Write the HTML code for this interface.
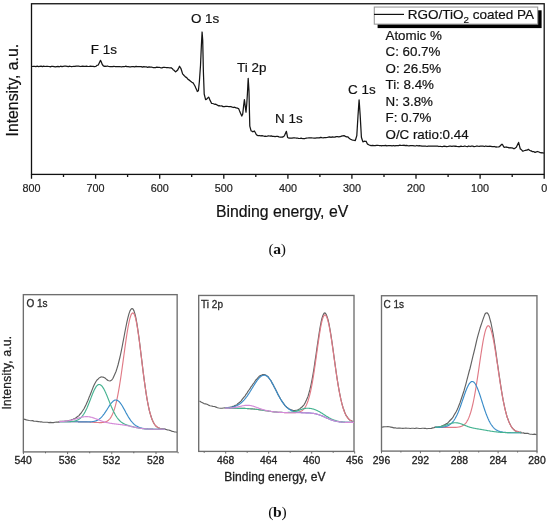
<!DOCTYPE html>
<html><head><meta charset="utf-8"><style>
html,body{margin:0;padding:0;background:#fff;}
body{width:550px;height:523px;overflow:hidden;}
svg{display:block;will-change:transform;}
text{font-family:"Liberation Sans",sans-serif;}
.b3{stroke:currentColor;stroke-width:0.3px;}
.b2{stroke:currentColor;stroke-width:0.2px;}
.serif{font-family:"Liberation Serif",serif;}
</style></head><body>
<svg width="550" height="523" viewBox="0 0 550 523">
<rect width="550" height="523" fill="#fff"/>
<!-- (a) survey -->
<g fill="none" stroke="#111" stroke-width="1.3">
<rect x="31.5" y="3.75" width="512.7" height="170.65"/>
<path d="M544.2 174.4V178.8M512.2 174.4V176.9M480.1 174.4V178.8M448.1 174.4V176.9M416 174.4V178.8M384 174.4V176.9M351.9 174.4V178.8M319.9 174.4V176.9M287.9 174.4V178.8M255.8 174.4V176.9M223.8 174.4V178.8M191.7 174.4V176.9M159.7 174.4V178.8M127.6 174.4V176.9M95.6 174.4V178.8M63.5 174.4V176.9M31.5 174.4V178.8"/>
</g>
<path d="M32 66.5L33.3 66.4L34.6 66.3L35.9 66.6L37.2 66.2L38.5 66.6L39.8 66.4L41.1 66.2L42.4 66.6L43.7 66.2L45 66.5L46.3 66.3L47.6 66.3L48.9 66.5L50 66.6L50.2 66.8L51.5 66.3L52.8 66.4L54.1 66.6L55.4 66.9L56.7 66.6L58 66.4L59.3 66.8L60.6 66.2L61.9 66.7L63.2 66.3L64.5 66.2L65.8 66.2L67.1 66.3L68.4 66.6L69.7 66.2L70 66.4L71 66.5L72.3 66.5L73.6 66.3L74.9 66.4L76.2 66.1L77.5 66.1L78.8 66.2L80.1 66.5L81.4 66.3L82.7 66.2L84 66.4L85.3 66.3L86.6 66.2L87.9 66.5L89.2 66.4L90 66.3L90.5 66.1L91.8 66.4L93.1 66.3L94.4 66.6L95.7 66.5L96 66.3L97 65.4L98.3 65L98.5 64.5L99.6 62.2L100.5 60.4L100.9 61L102.2 64.2L102.3 64.5L103.5 66L104 66.3L104.8 66.1L106.1 66.3L107.4 66L108.7 66.5L110 66.6L111.3 66.5L112.6 66.7L113.9 66.3L115 66.5L115.2 66.6L116.5 66.6L117.8 66.6L119.1 66.5L120.4 66.7L121.7 66.8L123 66.5L124.3 66.6L125 66.5L125.6 66.2L126.9 66.7L128.2 66.7L129.5 66.9L130.8 66.9L132.1 66.5L133.4 66.6L134.7 66.8L136 66.4L137.3 66.7L138.6 66.6L139.9 66.6L141.2 66.6L142.5 67.1L143 66.9L143.8 66.7L145.1 66.8L146.4 66.9L147.7 67.3L149 66.8L150.3 67.1L151.6 67.2L152.9 67.5L154.2 67.5L155.5 67.6L156.8 67.2L158.1 67.4L159.4 67.4L160 67.5L160.7 67.8L162 67.9L163.3 67.3L164.6 67.4L165.9 67.5L167.2 67.5L168.5 67.7L169.8 67.8L171 67.8L171.1 67.7L172.4 68.7L173.1 69.7L173.7 70.1L175 71.2L175.6 71.8L176.3 71.2L177.4 70.2L177.6 70.1L178.9 67.5L179.5 66.2L180.2 67.4L181 68.7L181.5 70.3L182.6 73.9L182.8 74.1L184.1 75.5L185.2 76.6L185.4 76.9L186.7 77.6L188 79.3L189.3 80.3L189.4 80.2L190.6 81.3L191.9 82.2L193.1 82.9L193.2 83L194.5 85.2L195.2 86.5L195.8 87.9L197.1 90.7L197.3 91.5L198.4 90.8L199.4 81.3L199.7 77L200.5 65.5L201 54.1L201.4 45L202.1 32L202.3 34.7L202.7 40L203.4 72L203.6 77.5L204.2 94L204.9 96.9L205.6 99.7L206.2 99.4L207.3 98.6L207.5 98.1L208.6 97.1L208.8 97.2L210 100.2L210.1 100.4L211.4 103L211.5 103.4L212.7 103.5L214 104L215 104.4L215.3 104.2L216.6 104.7L217.9 105.4L218.4 105.8L219.2 105.6L220.5 106L221.8 105.9L223.1 106.7L223.6 106.5L224.4 106.6L225.7 106.3L227 106.4L228.3 106.5L229.6 106.5L230 106.6L230.9 106.5L232.2 107.2L233.5 107.5L234 107.2L234.8 107.4L236.1 107.8L236.7 108L237.4 108L238.7 108.9L238.7 108.6L240 112.1L241.3 114.9L241.8 116.1L242.6 114.3L242.7 114.1L243.6 106.1L243.9 103.7L244.4 99.7L245.2 105.9L245.4 107.4L246 112.1L246.5 106.8L246.7 104.7L247.4 94L247.8 86.1L248.2 78.3L249 91.4L249.1 96.1L249.4 110.1L249.8 126.1L250.4 128.3L251.1 130.8L251.7 131L252.7 131.7L253 131.8L254.3 131L254.4 131.2L255.6 133L256 134.1L256.9 135.1L258.1 135.7L258.2 135.7L259.5 135.5L260.8 135.9L262.1 135.6L263.4 136L264.7 136.4L265 136.1L266 136.4L267.3 136.2L268.6 135.9L269.9 136L270 136.1L271.2 135.9L272.5 136.4L273.8 136.4L275.1 136.6L276.4 136.4L277.7 136.4L279 136.9L280.3 137.1L281.6 137.1L282.7 136.9L282.9 137L284.2 136L284.5 135.5L285.5 133.3L286.4 131.3L286.8 133.3L287.6 137.3L288.1 137.8L289 138.2L289.4 138L290.7 138.2L292 138.1L293.3 137.9L294.6 137.9L295.9 138L297.2 138L298.5 138.3L299.8 138.5L301.1 138.2L302.4 138.5L303.7 138.5L305 138.5L306.3 138.1L306.4 138.2L307.6 138L308.9 137.9L310.2 137.8L311.5 137.8L312.8 138L314.1 138.2L315.4 138.1L316.7 137.8L318 137.9L319.3 137.9L320.6 137.4L321.9 137.7L323.2 137.8L324.5 137.5L325.8 137.6L327.1 137.5L328.4 137.2L329.7 136.9L331 137.3L332.3 136.9L333.6 137.1L334.9 137.1L336.2 136.6L337.5 136.6L338.8 136.9L340.1 136.6L340.9 136.4L341.4 136.1L342.7 135.8L344 135.6L344.5 135.8L345.3 136.4L346.6 136.9L347.9 136.9L348.2 137.3L349.2 138.2L350.5 139.2L351.8 139.8L353.1 140.2L354.4 140.3L355.3 140.6L355.7 139.3L356.8 135.6L357 132.3L358 115.8L358.3 111.4L359.1 99.8L359.6 107.1L360.2 115.8L360.9 128.3L361.4 137.2L362.2 139.7L362.9 141.8L363.5 141.7L364.8 141.2L365 141.4L366 141.4L366.1 141.2L367.4 144.1L367.6 144.1L368.7 144.8L369.8 145.3L370 145.3L371.3 145.7L372.6 145.3L373.9 145.7L375.2 145.7L376.5 145.3L377.8 145.4L379.1 145.5L380.4 145.5L381.7 145.8L381.8 145.7L383 145.5L384.3 145.6L385.6 145.4L386.9 145.9L388.2 145.5L389.5 145.6L390.8 145.7L392.1 145.9L393.4 145.5L394.7 145.9L396 145.6L397.3 145.6L398.6 145.6L399.9 145.2L401.2 145.5L402.5 145.3L403.6 145.5L403.8 145.2L405.1 145.7L406.4 145.3L407.7 145.6L409 145.8L410.3 145.7L411.6 145.6L412.9 145.7L414.2 145.8L415.5 146L416.8 145.5L418.1 145.9L419.4 145.7L420 145.9L420.7 145.8L422 146.1L423.3 146L424.6 146L425.9 146.2L427.2 146.3L428.5 146L429.8 146.1L431.1 146.1L432.4 146.1L433.7 146.2L435 146.1L436.3 146.2L437.6 146.1L438.9 146.5L440.2 146.3L441.5 146.5L442.8 146.5L444.1 146.1L445.4 146.3L446.7 146.6L448 146.5L449.3 146.1L450.6 146.1L451.9 146.3L453.2 146.1L454.5 146.2L455 146.4L455.8 146.1L457.1 146.5L458.4 146.6L459.7 146.6L461 146.1L462.3 146.5L463.6 146.4L464.9 146L466.2 146.5L467.5 146.6L468.8 146L470.1 146.5L471.4 146.1L472.3 146.2L472.7 146.2L474 146.6L475.3 146.5L476.6 146L477.9 146.2L479.2 146.3L480.5 146.2L481.8 146.1L483.1 146.2L484.4 146.5L485.7 146L487 146.4L488.3 146.3L489.5 146.4L489.6 146.1L490.9 146.4L492.2 146.7L493.5 146.7L494.8 146.5L496.1 147.2L496.5 146.9L497.4 147L498.7 146.9L499.9 146.4L500 146L501.3 144.8L502 144.2L502.6 144.7L503.9 147.1L504.2 147.3L505.2 147.1L506.5 147L506.8 147.3L507.8 147.3L509.1 147.8L510.3 147.6L510.4 147.9L511.7 147.9L513 148.2L513.7 148.7L514.3 148.7L515.6 147.7L516.3 147.3L516.9 146L518.2 143.4L518.6 142.4L519.5 145.9L520.3 149L520.8 149.2L522.1 150.4L522.4 151L523.4 151L524.7 150.5L525.8 150.4L526 150L527.3 150.1L528.4 149.3L528.6 149.5L529.9 150.5L531 151L531.2 150.8L532.5 151.7L533.8 151.6L534.4 152.1L535.1 152.3L536.4 151.8L537.7 151.5L537.9 151.6L539 152L540.3 152.7L541.4 152.8L541.6 152.7L542.9 152.8L544 153.3" fill="none" stroke="#151515" stroke-width="1.25" stroke-linejoin="round"/>
<g font-size="10.8" fill="#222" class="b2" color="#222"><text x="544.2" y="191.7" text-anchor="middle">0</text><text x="480.1" y="191.7" text-anchor="middle">100</text><text x="416" y="191.7" text-anchor="middle">200</text><text x="351.9" y="191.7" text-anchor="middle">300</text><text x="287.9" y="191.7" text-anchor="middle">400</text><text x="223.8" y="191.7" text-anchor="middle">500</text><text x="159.7" y="191.7" text-anchor="middle">600</text><text x="95.6" y="191.7" text-anchor="middle">700</text><text x="31.5" y="191.7" text-anchor="middle">800</text></g>
<g font-size="13.4" fill="#111" class="b2" color="#111">
<text x="90.8" y="54.2">F 1s</text>
<text x="190.9" y="22.9">O 1s</text>
<text x="237.1" y="72.3">Ti 2p</text>
<text x="275.1" y="123.3">N 1s</text>
<text x="348.1" y="93.8">C 1s</text>
</g>
<!-- legend -->
<rect x="377.6" y="10.3" width="164" height="17.8" fill="#000"/>
<rect x="374.3" y="7.05" width="163.4" height="17.1" fill="#fff" stroke="#999" stroke-width="1.1"/>
<path d="M374 14.4H404" stroke="#111" stroke-width="1.2"/>
<text x="407.7" y="18.7" font-size="13.5" fill="#111" class="b2" color="#111">RGO/TiO<tspan font-size="9.8" dy="3.8">2</tspan><tspan dy="-3.8"> coated PA</tspan></text>
<g font-size="13.35" fill="#111" class="b2" color="#111">
<text x="385.5" y="39.5">Atomic %</text>
<text x="385.5" y="56">C: 60.7%</text>
<text x="385.5" y="72.6">O: 26.5%</text>
<text x="385.5" y="89.3">Ti: 8.4%</text>
<text x="385.5" y="105.9">N: 3.8%</text>
<text x="385.5" y="122.4">F: 0.7%</text>
<text x="385.5" y="138.8">O/C ratio:0.44</text>
</g>
<text transform="translate(17.7,136.4) rotate(-90)" font-size="15.75" fill="#111" class="b2" color="#111">Intensity, a.u.</text>
<text x="215.9" y="216.7" font-size="15.8" fill="#111" class="b2" color="#111">Binding energy, eV</text>
<text x="268.4" y="253.6" class="serif" font-size="15.6" letter-spacing="-0.35" fill="#111">(<tspan font-weight="bold">a</tspan>)</text>

<!-- (b) panels -->
<g fill="none" stroke="#6e6e6e" stroke-width="1.35">
<rect x="23.35" y="294.65" width="153.8" height="157.25"/>
<rect x="198.7" y="295.45" width="155.3" height="155.95"/>
<rect x="381.5" y="295.74" width="155.45" height="155.36"/>
</g>
<g fill="none" stroke="#666" stroke-width="1"><path d="M23.4 451.9v2.2M45.5 451.9v1.4M67.6 451.9v2.2M89.7 451.9v1.4M111.8 451.9v2.2M133.8 451.9v1.4M156 451.9v2.2M178.1 451.9v1.4M204.2 451.4v1.4M225.7 451.4v2.2M247.2 451.4v1.4M268.7 451.4v2.2M290.2 451.4v1.4M311.7 451.4v2.2M333.2 451.4v1.4M354.7 451.4v2.2M381.5 451.1v2.2M400.9 451.1v1.4M420.4 451.1v2.2M439.8 451.1v1.4M459.3 451.1v2.2M478.7 451.1v1.4M498.1 451.1v2.2M517.6 451.1v1.4M537 451.1v2.2"/></g>
<g fill="none" stroke-width="1.15" stroke-linejoin="round">
<path d="M23.4 419.1L24.9 419.4L26.4 419.9L27.9 420.2L29.4 420.5L30.9 420.7L32.4 420.6L33.9 421.1L35.4 421.3L36.9 421.4L38.4 421.6L39.9 421.8L41.4 421.8L42.9 422.2L44.4 422.2L45.9 422.2L47.4 422.3L48.9 422.6L50.4 422.4L51.9 422.6L53.4 422.6L54.9 422.3L56.4 422.1L57.9 422.1L59.4 422.1L59 421.6L60 421.4L61 421.3L62 421.3L63 421.2L64 421.2L65 421.1L66 421L67 421.1L68 420.7L69 420.6L70 420.2L71 420L72 419.5L73 419.2L74 418.7L75 418.5L76 417.8L77 417L78 416.3L79 415.6L80 414.2L81 413.3L82 411.8L83 410.3L84 408.8L85 406.7L86 404.7L87 402.5L88 400.3L89 397.6L90 395.3L91 392.7L92 390.1L93 387.6L94 385.3L95 383.2L96 381.5L97 380L98 379.2L99 378.1L100 377.4L101 376.9L102 377L103 377.1L104 377.5L105 378L106 378.9L107 379.7L108 380.5L109 380.8L110 381L111 380.4L112 379.8L113 378.3L114 376.1L115 373.7L116 371.5L117 368.3L118 365L119 361L120 357L121 352.4L122 347.5L123 342.2L124 337L125 331.5L126 326.5L127 321.6L128 317.4L129 313.6L130 310.9L131 309.2L132 308.5L133 309.1L134 310.9L135 314.1L136 318.5L137 324.1L138 330.8L139 337.9L140 345.7L141 354.3L142 362.1L143 370.6L144 378.4L145 385.4L146 392.6L147 398.8L148 404.1L149 409L150 413.1L151 416.2L152 419.2L153 421.5L154 423.5L155 425L156 426.2L157 426.9L158 427.7L159 428.1L160 428.5L161 428.5L162 428.6L163 428.8L164 429L165 428.9L165 429.1L166.2 429.5L167.4 429.9L168.6 430L169.8 430.4L171 430.8L172.2 431.4L173.4 431.5L174.6 432L175.8 432L177 432.2" stroke="#626262"/>
<path d="M59 421.7L59.5 421.7L60 421.7L60.5 421.7L61 421.7L61.5 421.7L62 421.7L62.5 421.7L63 421.7L63.5 421.7L64 421.7L64.5 421.7L65 421.7L65.5 421.7L66 421.7L66.5 421.7L67 421.7L67.5 421.7L68 421.7L68.5 421.7L69 421.7L69.5 421.7L70 421.7L70.5 421.7L71 421.7L71.5 421.7L72 421.7L72.5 421.7L73 421.7L73.5 421.7L74 421.7L74.5 421.7L75 421.7L75.5 421.7L76 421.7L76.5 421.7L77 421.7L77.5 421.7L78 421.8L78.5 421.8L79 421.8L79.5 421.8L80 421.8L80.5 421.8L81 421.8L81.5 421.8L82 421.8L82.5 421.8L83 421.8L83.5 421.8L84 421.9L84.5 421.9L85 421.9L85.5 421.9L86 421.9L86.5 421.9L87 421.9L87.5 422L88 422L88.5 422L89 422L89.5 422L90 422.1L90.5 422.1L91 422.1L91.5 422.1L92 422.2L92.5 422.2L93 422.2L93.5 422.3L94 422.3L94.5 422.3L95 422.3L95.5 422.4L96 422.4L96.5 422.4L97 422.5L97.5 422.5L98 422.5L98.5 422.5L99 422.6L99.5 422.6L100 422.6L100.5 422.6L101 422.6L101.5 422.6L102 422.5L102.5 422.5L103 422.4L103.5 422.4L104 422.3L104.5 422.2L105 422.1L105.5 421.9L106 421.7L106.5 421.5L107 421.2L107.5 420.9L108 420.6L108.5 420.2L109 419.7L109.5 419.2L110 418.6L110.5 417.9L111 417.1L111.5 416.3L112 415.3L112.5 414.3L113 413.1L113.5 411.8L114 410.4L114.5 408.9L115 407.2L115.5 405.4L116 403.4L116.5 401.3L117 399.1L117.5 396.7L118 394.1L118.5 391.4L119 388.6L119.5 385.6L120 382.5L120.5 379.3L121 376L121.5 372.5L122 369L122.5 365.4L123 361.8L123.5 358.1L124 354.5L124.5 350.8L125 347.2L125.5 343.6L126 340.1L126.5 336.7L127 333.5L127.5 330.4L128 327.5L128.5 324.8L129 322.3L129.5 320.1L130 318.2L130.5 316.5L131 315.1L131.5 314.1L132 313.4L132.5 313L133 312.9L133.5 313.2L134 313.9L134.5 314.9L135 316.4L135.5 318.1L136 320.3L136.5 322.7L137 325.4L137.5 328.4L138 331.6L138.5 335.1L139 338.7L139.5 342.5L140 346.4L140.5 350.4L141 354.4L141.5 358.5L142 362.6L142.5 366.6L143 370.7L143.5 374.6L144 378.4L144.5 382.2L145 385.8L145.5 389.2L146 392.5L146.5 395.7L147 398.7L147.5 401.5L148 404.1L148.5 406.6L149 408.9L149.5 411L150 412.9L150.5 414.7L151 416.4L151.5 417.9L152 419.2L152.5 420.4L153 421.5L153.5 422.5L154 423.4L154.5 424.2L155 424.9L155.5 425.5L156 426L156.5 426.5L157 426.9L157.5 427.2L158 427.5L158.5 427.8L159 428L159.5 428.2L160 428.4L160.5 428.5L161 428.6L161.5 428.7L162 428.8L162.5 428.9L163 428.9L163.5 429L164 429L164.5 429.1L165 429.1" stroke="#e07a86"/>
<path d="M59 421.7L59.5 421.7L60 421.7L60.5 421.7L61 421.7L61.5 421.7L62 421.7L62.5 421.7L63 421.7L63.5 421.7L64 421.7L64.5 421.7L65 421.7L65.5 421.7L66 421.7L66.5 421.7L67 421.7L67.5 421.7L68 421.7L68.5 421.7L69 421.7L69.5 421.7L70 421.7L70.5 421.7L71 421.7L71.5 421.7L72 421.7L72.5 421.7L73 421.7L73.5 421.7L74 421.7L74.5 421.7L75 421.7L75.5 421.7L76 421.7L76.5 421.7L77 421.7L77.5 421.7L78 421.8L78.5 421.8L79 421.8L79.5 421.8L80 421.8L80.5 421.8L81 421.8L81.5 421.8L82 421.8L82.5 421.8L83 421.8L83.5 421.8L84 421.8L84.5 421.8L85 421.8L85.5 421.8L86 421.8L86.5 421.9L87 421.9L87.5 421.9L88 421.9L88.5 421.8L89 421.8L89.5 421.8L90 421.8L90.5 421.8L91 421.8L91.5 421.7L92 421.7L92.5 421.6L93 421.5L93.5 421.5L94 421.4L94.5 421.3L95 421.1L95.5 421L96 420.8L96.5 420.6L97 420.4L97.5 420.2L98 419.9L98.5 419.6L99 419.3L99.5 418.9L100 418.5L100.5 418.1L101 417.6L101.5 417.1L102 416.6L102.5 416L103 415.4L103.5 414.7L104 414.1L104.5 413.4L105 412.6L105.5 411.9L106 411.1L106.5 410.3L107 409.6L107.5 408.8L108 408L108.5 407.2L109 406.4L109.5 405.6L110 404.9L110.5 404.2L111 403.5L111.5 402.9L112 402.3L112.5 401.8L113 401.3L113.5 400.9L114 400.6L114.5 400.3L115 400.1L115.5 400L116 400L116.5 400.1L117 400.2L117.5 400.4L118 400.7L118.5 401.1L119 401.5L119.5 402L120 402.6L120.5 403.3L121 404L121.5 404.7L122 405.5L122.5 406.3L123 407.2L123.5 408.1L124 409L124.5 409.9L125 410.8L125.5 411.7L126 412.7L126.5 413.6L127 414.5L127.5 415.4L128 416.2L128.5 417.1L129 417.9L129.5 418.6L130 419.4L130.5 420.1L131 420.8L131.5 421.4L132 422L132.5 422.6L133 423.1L133.5 423.7L134 424.1L134.5 424.6L135 425L135.5 425.4L136 425.7L136.5 426L137 426.3L137.5 426.6L138 426.9L138.5 427.1L139 427.3L139.5 427.5L140 427.7L140.5 427.8L141 428L141.5 428.1L142 428.2L142.5 428.3L143 428.4L143.5 428.5L144 428.6L144.5 428.7L145 428.7L145.5 428.8L146 428.8L146.5 428.9L147 428.9L147.5 428.9L148 429L148.5 429L149 429L149.5 429.1L150 429.1L150.5 429.1L151 429.1L151.5 429.1L152 429.1L152.5 429.1L153 429.1L153.5 429.2L154 429.2L154.5 429.2L155 429.2L155.5 429.2L156 429.2L156.5 429.2L157 429.2L157.5 429.2L158 429.2L158.5 429.2L159 429.2L159.5 429.2L160 429.2L160.5 429.2L161 429.2L161.5 429.2L162 429.2L162.5 429.2L163 429.2L163.5 429.2L164 429.2L164.5 429.2L165 429.2" stroke="#3a8cc9"/>
<path d="M59 421.7L59.5 421.7L60 421.7L60.5 421.7L61 421.7L61.5 421.7L62 421.7L62.5 421.7L63 421.7L63.5 421.7L64 421.7L64.5 421.7L65 421.7L65.5 421.7L66 421.7L66.5 421.7L67 421.7L67.5 421.7L68 421.6L68.5 421.6L69 421.6L69.5 421.6L70 421.6L70.5 421.6L71 421.5L71.5 421.5L72 421.4L72.5 421.4L73 421.3L73.5 421.3L74 421.2L74.5 421.1L75 421L75.5 420.8L76 420.7L76.5 420.5L77 420.3L77.5 420.1L78 419.8L78.5 419.6L79 419.3L79.5 418.9L80 418.5L80.5 418.1L81 417.6L81.5 417.1L82 416.5L82.5 415.9L83 415.2L83.5 414.5L84 413.7L84.5 412.9L85 412L85.5 411L86 410L86.5 409L87 407.9L87.5 406.7L88 405.5L88.5 404.3L89 403.1L89.5 401.8L90 400.5L90.5 399.2L91 397.9L91.5 396.6L92 395.3L92.5 394.1L93 392.8L93.5 391.7L94 390.6L94.5 389.5L95 388.6L95.5 387.7L96 386.9L96.5 386.2L97 385.6L97.5 385.2L98 384.8L98.5 384.6L99 384.5L99.5 384.5L100 384.7L100.5 384.9L101 385.3L101.5 385.7L102 386.2L102.5 386.9L103 387.6L103.5 388.4L104 389.3L104.5 390.2L105 391.3L105.5 392.3L106 393.5L106.5 394.6L107 395.8L107.5 397.1L108 398.3L108.5 399.6L109 400.8L109.5 402.1L110 403.3L110.5 404.6L111 405.8L111.5 407L112 408.1L112.5 409.2L113 410.3L113.5 411.4L114 412.4L114.5 413.3L115 414.3L115.5 415.1L116 416L116.5 416.7L117 417.5L117.5 418.2L118 418.8L118.5 419.4L119 420L119.5 420.5L120 421L120.5 421.4L121 421.9L121.5 422.2L122 422.6L122.5 422.9L123 423.2L123.5 423.5L124 423.8L124.5 424.1L125 424.3L125.5 424.5L126 424.7L126.5 424.9L127 425.1L127.5 425.3L128 425.4L128.5 425.6L129 425.7L129.5 425.9L130 426L130.5 426.2L131 426.3L131.5 426.4L132 426.6L132.5 426.7L133 426.8L133.5 426.9L134 427.1L134.5 427.2L135 427.3L135.5 427.4L136 427.5L136.5 427.6L137 427.7L137.5 427.8L138 427.9L138.5 428L139 428.1L139.5 428.2L140 428.2L140.5 428.3L141 428.4L141.5 428.4L142 428.5L142.5 428.6L143 428.6L143.5 428.7L144 428.7L144.5 428.8L145 428.8L145.5 428.9L146 428.9L146.5 428.9L147 429L147.5 429L148 429L148.5 429L149 429.1L149.5 429.1L150 429.1L150.5 429.1L151 429.1L151.5 429.1L152 429.1L152.5 429.1L153 429.2L153.5 429.2L154 429.2L154.5 429.2L155 429.2L155.5 429.2L156 429.2L156.5 429.2L157 429.2L157.5 429.2L158 429.2L158.5 429.2L159 429.2L159.5 429.2L160 429.2L160.5 429.2L161 429.2L161.5 429.2L162 429.2L162.5 429.2L163 429.2L163.5 429.2L164 429.2L164.5 429.2L165 429.2" stroke="#45b391"/>
<path d="M59 421.6L59.5 421.6L60 421.6L60.5 421.5L61 421.5L61.5 421.5L62 421.5L62.5 421.4L63 421.4L63.5 421.4L64 421.3L64.5 421.3L65 421.2L65.5 421.2L66 421.1L66.5 421.1L67 421L67.5 420.9L68 420.8L68.5 420.8L69 420.7L69.5 420.6L70 420.5L70.5 420.4L71 420.3L71.5 420.1L72 420L72.5 419.9L73 419.7L73.5 419.6L74 419.5L74.5 419.3L75 419.2L75.5 419L76 418.9L76.5 418.7L77 418.5L77.5 418.4L78 418.2L78.5 418.1L79 417.9L79.5 417.8L80 417.6L80.5 417.5L81 417.4L81.5 417.2L82 417.1L82.5 417L83 416.9L83.5 416.8L84 416.8L84.5 416.7L85 416.7L85.5 416.6L86 416.6L86.5 416.6L87 416.6L87.5 416.6L88 416.7L88.5 416.7L89 416.8L89.5 416.9L90 416.9L90.5 417.1L91 417.2L91.5 417.3L92 417.4L92.5 417.6L93 417.7L93.5 417.9L94 418.1L94.5 418.3L95 418.5L95.5 418.7L96 418.8L96.5 419L97 419.2L97.5 419.4L98 419.6L98.5 419.8L99 420L99.5 420.2L100 420.4L100.5 420.6L101 420.8L101.5 421L102 421.2L102.5 421.3L103 421.5L103.5 421.7L104 421.8L104.5 422L105 422.1L105.5 422.2L106 422.4L106.5 422.5L107 422.6L107.5 422.7L108 422.8L108.5 422.9L109 423L109.5 423.1L110 423.2L110.5 423.3L111 423.4L111.5 423.4L112 423.5L112.5 423.6L113 423.6L113.5 423.7L114 423.8L114.5 423.8L115 423.9L115.5 424L116 424L116.5 424.1L117 424.1L117.5 424.2L118 424.3L118.5 424.3L119 424.4L119.5 424.5L120 424.5L120.5 424.6L121 424.6L121.5 424.7L122 424.8L122.5 424.9L123 424.9L123.5 425L124 425.1L124.5 425.2L125 425.3L125.5 425.4L126 425.4L126.5 425.5L127 425.6L127.5 425.7L128 425.8L128.5 425.9L129 426L129.5 426.1L130 426.2L130.5 426.3L131 426.5L131.5 426.6L132 426.7L132.5 426.8L133 426.9L133.5 427L134 427.1L134.5 427.2L135 427.3L135.5 427.4L136 427.5L136.5 427.6L137 427.7L137.5 427.8L138 427.9L138.5 428L139 428.1L139.5 428.2L140 428.2L140.5 428.3L141 428.4L141.5 428.5L142 428.5L142.5 428.6L143 428.6L143.5 428.7L144 428.7L144.5 428.8L145 428.8L145.5 428.9L146 428.9L146.5 428.9L147 429L147.5 429L148 429L148.5 429L149 429.1L149.5 429.1L150 429.1L150.5 429.1L151 429.1L151.5 429.1L152 429.1L152.5 429.1L153 429.2L153.5 429.2L154 429.2L154.5 429.2L155 429.2L155.5 429.2L156 429.2L156.5 429.2L157 429.2L157.5 429.2L158 429.2L158.5 429.2L159 429.2L159.5 429.2L160 429.2L160.5 429.2L161 429.2L161.5 429.2L162 429.2L162.5 429.2L163 429.2L163.5 429.2L164 429.2L164.5 429.2L165 429.2" stroke="#d48ad8"/>
<path d="M199.5 401L201 402L202.5 402.8L204 403.6L205.5 403.9L207 404.3L208.5 405.1L210 405.7L211.5 406L213 406.4L214.5 406.5L216 407.1L217.5 407.7L219 408L220.5 408.2L222 408.3L223.5 408L225 407.9L225 407.9L226 408L227 407.9L228 407.8L229 407.4L230 407.4L231 407.1L232 406.8L233 406.3L234 406.3L235 405.4L236 405.3L237 404.6L238 403.4L239 402.8L240 402L241 401.1L242 399.7L243 398.4L244 397.1L245 396.1L246 394.3L247 393.1L248 391.3L249 390L250 388.7L251 386.8L252 385.6L253 384L254 382.8L255 381.3L256 379.8L257 379L258 377.7L259 376.5L260 375.8L261 375.4L262 374.9L263 374.6L264 374.5L265 374.8L266 375.2L267 376.1L268 376.6L269 378.1L270 379.5L271 380.7L272 382.9L273 384.6L274 386.6L275 388.3L276 390.3L277 392.3L278 394.6L279 396.3L280 398L281 399.8L282 401.3L283 402.7L284 404L285 405.6L286 406.4L287 407.6L288 408.1L289 408.8L290 409.4L291 409.7L292 410.1L293 410.6L294 410.6L295 410.5L296 410.3L297 410.2L298 409.9L299 409.2L300 408.7L301 407.7L302 407.1L303 405.9L304 404.8L305 403.1L306 401.1L307 398.7L308 396.4L309 392.8L310 389.2L311 384.8L312 379.8L313 374.4L314 368.4L315 361.4L316 354.8L317 347.6L318 340.8L319 334L320 327.8L321 322.5L322 318.1L323 315.3L324 313.3L325 312.8L326 314.1L327 316.4L328 319.6L329 323.9L330 329.3L331 335.4L332 342.2L333 349.2L334 356.5L335 363.8L336 371L337 377.9L338 384.2L339 389.9L340 395.1L341 399.9L342 403.9L343 407.5L344 410.3L345 413L346 415.4L347 416.6L348 418.2L349 419.3L350 420.2L351 420.5L352 421L353 421.4L354 421.7" stroke="#626262"/>
<path d="M225 408.2L225.5 408.2L226 408.2L226.5 408.2L227 408.2L227.5 408.2L228 408.2L228.5 408.2L229 408.2L229.5 408.2L230 408.2L230.5 408.2L231 408.2L231.5 408.2L232 408.2L232.5 408.2L233 408.2L233.5 408.2L234 408.2L234.5 408.2L235 408.2L235.5 408.2L236 408.2L236.5 408.2L237 408.3L237.5 408.3L238 408.3L238.5 408.3L239 408.3L239.5 408.3L240 408.3L240.5 408.3L241 408.3L241.5 408.3L242 408.3L242.5 408.4L243 408.4L243.5 408.4L244 408.4L244.5 408.4L245 408.4L245.5 408.5L246 408.5L246.5 408.5L247 408.5L247.5 408.6L248 408.6L248.5 408.6L249 408.7L249.5 408.7L250 408.7L250.5 408.8L251 408.8L251.5 408.8L252 408.9L252.5 408.9L253 409L253.5 409L254 409.1L254.5 409.1L255 409.2L255.5 409.2L256 409.3L256.5 409.4L257 409.4L257.5 409.5L258 409.5L258.5 409.6L259 409.7L259.5 409.8L260 409.8L260.5 409.9L261 410L261.5 410L262 410.1L262.5 410.2L263 410.3L263.5 410.3L264 410.4L264.5 410.5L265 410.6L265.5 410.6L266 410.7L266.5 410.8L267 410.9L267.5 411L268 411L268.5 411.1L269 411.2L269.5 411.2L270 411.3L270.5 411.4L271 411.5L271.5 411.5L272 411.6L272.5 411.6L273 411.7L273.5 411.8L274 411.8L274.5 411.9L275 411.9L275.5 412L276 412L276.5 412.1L277 412.1L277.5 412.2L278 412.2L278.5 412.2L279 412.3L279.5 412.3L280 412.3L280.5 412.4L281 412.4L281.5 412.4L282 412.5L282.5 412.5L283 412.5L283.5 412.5L284 412.5L284.5 412.6L285 412.6L285.5 412.6L286 412.6L286.5 412.6L287 412.6L287.5 412.6L288 412.6L288.5 412.7L289 412.7L289.5 412.7L290 412.7L290.5 412.7L291 412.7L291.5 412.7L292 412.7L292.5 412.7L293 412.7L293.5 412.6L294 412.6L294.5 412.6L295 412.6L295.5 412.6L296 412.5L296.5 412.5L297 412.4L297.5 412.3L298 412.3L298.5 412.2L299 412L299.5 411.9L300 411.7L300.5 411.5L301 411.3L301.5 411L302 410.7L302.5 410.3L303 409.9L303.5 409.4L304 408.9L304.5 408.2L305 407.5L305.5 406.7L306 405.8L306.5 404.8L307 403.6L307.5 402.3L308 401L308.5 399.4L309 397.7L309.5 395.9L310 393.9L310.5 391.8L311 389.4L311.5 387L312 384.3L312.5 381.6L313 378.6L313.5 375.6L314 372.4L314.5 369L315 365.6L315.5 362.1L316 358.6L316.5 355L317 351.4L317.5 347.8L318 344.2L318.5 340.8L319 337.4L319.5 334.1L320 331.1L320.5 328.2L321 325.5L321.5 323.1L322 320.9L322.5 319.1L323 317.6L323.5 316.4L324 315.5L324.5 315L325 314.9L325.5 315.2L326 315.7L326.5 316.6L327 317.8L327.5 319.3L328 321.1L328.5 323.1L329 325.4L329.5 327.9L330 330.6L330.5 333.5L331 336.6L331.5 339.8L332 343.2L332.5 346.6L333 350.1L333.5 353.7L334 357.3L334.5 360.9L335 364.4L335.5 367.9L336 371.4L336.5 374.8L337 378.1L337.5 381.3L338 384.4L338.5 387.3L339 390.2L339.5 392.9L340 395.4L340.5 397.8L341 400.1L341.5 402.2L342 404.2L342.5 406L343 407.7L343.5 409.2L344 410.7L344.5 412L345 413.2L345.5 414.2L346 415.2L346.5 416.1L347 416.9L347.5 417.6L348 418.2L348.5 418.8L349 419.3L349.5 419.7L350 420.1L350.5 420.4L351 420.7L351.5 421L352 421.2L352.5 421.4L353 421.5L353.5 421.7L354 421.8" stroke="#e07a86"/>
<path d="M225 408L225.5 408L226 408L226.5 407.9L227 407.9L227.5 407.9L228 407.8L228.5 407.8L229 407.7L229.5 407.6L230 407.6L230.5 407.5L231 407.4L231.5 407.3L232 407.2L232.5 407.1L233 407L233.5 406.9L234 406.7L234.5 406.6L235 406.4L235.5 406.2L236 406L236.5 405.8L237 405.6L237.5 405.3L238 405L238.5 404.7L239 404.4L239.5 404.1L240 403.7L240.5 403.4L241 403L241.5 402.5L242 402.1L242.5 401.6L243 401.1L243.5 400.6L244 400.1L244.5 399.5L245 398.9L245.5 398.3L246 397.6L246.5 397L247 396.3L247.5 395.6L248 394.8L248.5 394.1L249 393.3L249.5 392.6L250 391.8L250.5 391L251 390.1L251.5 389.3L252 388.5L252.5 387.7L253 386.9L253.5 386L254 385.2L254.5 384.4L255 383.6L255.5 382.9L256 382.1L256.5 381.4L257 380.7L257.5 380L258 379.4L258.5 378.8L259 378.2L259.5 377.7L260 377.2L260.5 376.8L261 376.4L261.5 376L262 375.7L262.5 375.5L263 375.4L263.5 375.2L264 375.2L264.5 375.2L265 375.2L265.5 375.4L266 375.6L266.5 375.8L267 376.2L267.5 376.6L268 377L268.5 377.5L269 378.1L269.5 378.8L270 379.5L270.5 380.2L271 381L271.5 381.8L272 382.7L272.5 383.6L273 384.5L273.5 385.5L274 386.4L274.5 387.4L275 388.4L275.5 389.4L276 390.4L276.5 391.4L277 392.4L277.5 393.4L278 394.4L278.5 395.3L279 396.3L279.5 397.2L280 398.1L280.5 399L281 399.8L281.5 400.6L282 401.4L282.5 402.2L283 402.9L283.5 403.6L284 404.3L284.5 404.9L285 405.5L285.5 406.1L286 406.6L286.5 407.1L287 407.6L287.5 408L288 408.4L288.5 408.8L289 409.2L289.5 409.5L290 409.8L290.5 410.1L291 410.4L291.5 410.6L292 410.8L292.5 411L293 411.2L293.5 411.4L294 411.5L294.5 411.6L295 411.8L295.5 411.9L296 412L296.5 412.1L297 412.1L297.5 412.2L298 412.3L298.5 412.3L299 412.4L299.5 412.4L300 412.5L300.5 412.5L301 412.6L301.5 412.6L302 412.6L302.5 412.6L303 412.7L303.5 412.7L304 412.7L304.5 412.7L305 412.7L305.5 412.8L306 412.8L306.5 412.8L307 412.8L307.5 412.9L308 412.9L308.5 412.9L309 412.9L309.5 413L310 413L310.5 413.1L311 413.1L311.5 413.2L312 413.2L312.5 413.3L313 413.4L313.5 413.4L314 413.5L314.5 413.6L315 413.7L315.5 413.8L316 413.9L316.5 414.1L317 414.2L317.5 414.3L318 414.5L318.5 414.6L319 414.8L319.5 415L320 415.2L320.5 415.3L321 415.5L321.5 415.7L322 415.9L322.5 416.1L323 416.3L323.5 416.6L324 416.8L324.5 417L325 417.2L325.5 417.4L326 417.7L326.5 417.9L327 418.1L327.5 418.3L328 418.5L328.5 418.8L329 419L329.5 419.2L330 419.4L330.5 419.6L331 419.7L331.5 419.9L332 420.1L332.5 420.3L333 420.4L333.5 420.6L334 420.7L334.5 420.9L335 421L335.5 421.1L336 421.2L336.5 421.3L337 421.4L337.5 421.5L338 421.6L338.5 421.7L339 421.8L339.5 421.8L340 421.9L340.5 421.9L341 422L341.5 422L342 422.1L342.5 422.1L343 422.2L343.5 422.2L344 422.2L344.5 422.2L345 422.3L345.5 422.3L346 422.3L346.5 422.3L347 422.3L347.5 422.3L348 422.3L348.5 422.4L349 422.4L349.5 422.4L350 422.4L350.5 422.4L351 422.4L351.5 422.4L352 422.4L352.5 422.4L353 422.4L353.5 422.4L354 422.4" stroke="#3a8cc9"/>
<path d="M225 408.2L225.5 408.2L226 408.2L226.5 408.2L227 408.2L227.5 408.2L228 408.2L228.5 408.2L229 408.2L229.5 408.2L230 408.2L230.5 408.2L231 408.2L231.5 408.2L232 408.2L232.5 408.2L233 408.2L233.5 408.2L234 408.2L234.5 408.2L235 408.2L235.5 408.2L236 408.2L236.5 408.2L237 408.3L237.5 408.3L238 408.3L238.5 408.3L239 408.3L239.5 408.3L240 408.3L240.5 408.3L241 408.3L241.5 408.3L242 408.3L242.5 408.4L243 408.4L243.5 408.4L244 408.4L244.5 408.4L245 408.4L245.5 408.5L246 408.5L246.5 408.5L247 408.5L247.5 408.6L248 408.6L248.5 408.6L249 408.7L249.5 408.7L250 408.7L250.5 408.8L251 408.8L251.5 408.8L252 408.9L252.5 408.9L253 409L253.5 409L254 409.1L254.5 409.1L255 409.2L255.5 409.2L256 409.3L256.5 409.4L257 409.4L257.5 409.5L258 409.5L258.5 409.6L259 409.7L259.5 409.8L260 409.8L260.5 409.9L261 410L261.5 410L262 410.1L262.5 410.2L263 410.3L263.5 410.3L264 410.4L264.5 410.5L265 410.6L265.5 410.6L266 410.7L266.5 410.8L267 410.9L267.5 411L268 411L268.5 411.1L269 411.2L269.5 411.2L270 411.3L270.5 411.4L271 411.5L271.5 411.5L272 411.6L272.5 411.6L273 411.7L273.5 411.8L274 411.8L274.5 411.9L275 411.9L275.5 412L276 412L276.5 412.1L277 412.1L277.5 412.2L278 412.2L278.5 412.2L279 412.3L279.5 412.3L280 412.3L280.5 412.4L281 412.4L281.5 412.4L282 412.4L282.5 412.4L283 412.5L283.5 412.5L284 412.5L284.5 412.5L285 412.5L285.5 412.5L286 412.5L286.5 412.5L287 412.5L287.5 412.5L288 412.4L288.5 412.4L289 412.4L289.5 412.3L290 412.3L290.5 412.3L291 412.2L291.5 412.1L292 412.1L292.5 412L293 411.9L293.5 411.8L294 411.7L294.5 411.6L295 411.5L295.5 411.3L296 411.2L296.5 411.1L297 410.9L297.5 410.7L298 410.6L298.5 410.4L299 410.2L299.5 410.1L300 409.9L300.5 409.7L301 409.5L301.5 409.4L302 409.2L302.5 409L303 408.9L303.5 408.8L304 408.6L304.5 408.5L305 408.4L305.5 408.3L306 408.3L306.5 408.2L307 408.2L307.5 408.2L308 408.2L308.5 408.2L309 408.3L309.5 408.3L310 408.4L310.5 408.5L311 408.5L311.5 408.6L312 408.7L312.5 408.9L313 409L313.5 409.1L314 409.3L314.5 409.5L315 409.7L315.5 409.8L316 410.1L316.5 410.3L317 410.5L317.5 410.7L318 411L318.5 411.2L319 411.5L319.5 411.8L320 412.1L320.5 412.4L321 412.7L321.5 413L322 413.3L322.5 413.6L323 413.9L323.5 414.3L324 414.6L324.5 414.9L325 415.2L325.5 415.5L326 415.9L326.5 416.2L327 416.5L327.5 416.8L328 417.1L328.5 417.4L329 417.7L329.5 418L330 418.2L330.5 418.5L331 418.8L331.5 419L332 419.2L332.5 419.5L333 419.7L333.5 419.9L334 420.1L334.5 420.3L335 420.4L335.5 420.6L336 420.8L336.5 420.9L337 421L337.5 421.2L338 421.3L338.5 421.4L339 421.5L339.5 421.6L340 421.7L340.5 421.7L341 421.8L341.5 421.9L342 421.9L342.5 422L343 422L343.5 422.1L344 422.1L344.5 422.1L345 422.2L345.5 422.2L346 422.2L346.5 422.2L347 422.3L347.5 422.3L348 422.3L348.5 422.3L349 422.3L349.5 422.3L350 422.3L350.5 422.4L351 422.4L351.5 422.4L352 422.4L352.5 422.4L353 422.4L353.5 422.4L354 422.4" stroke="#45b391"/>
<path d="M225 408.2L225.5 408.1L226 408.1L226.5 408.1L227 408.1L227.5 408.1L228 408.1L228.5 408.1L229 408L229.5 408L230 408L230.5 407.9L231 407.9L231.5 407.9L232 407.8L232.5 407.8L233 407.7L233.5 407.7L234 407.6L234.5 407.5L235 407.4L235.5 407.4L236 407.3L236.5 407.2L237 407.1L237.5 407L238 406.9L238.5 406.8L239 406.6L239.5 406.5L240 406.4L240.5 406.3L241 406.2L241.5 406.1L242 406L242.5 405.8L243 405.7L243.5 405.7L244 405.6L244.5 405.5L245 405.4L245.5 405.4L246 405.3L246.5 405.3L247 405.3L247.5 405.3L248 405.3L248.5 405.3L249 405.3L249.5 405.4L250 405.5L250.5 405.5L251 405.6L251.5 405.7L252 405.9L252.5 406L253 406.1L253.5 406.3L254 406.5L254.5 406.6L255 406.8L255.5 407L256 407.2L256.5 407.3L257 407.5L257.5 407.7L258 407.9L258.5 408.1L259 408.3L259.5 408.5L260 408.6L260.5 408.8L261 409L261.5 409.1L262 409.3L262.5 409.5L263 409.6L263.5 409.8L264 409.9L264.5 410L265 410.2L265.5 410.3L266 410.4L266.5 410.5L267 410.6L267.5 410.8L268 410.9L268.5 411L269 411L269.5 411.1L270 411.2L270.5 411.3L271 411.4L271.5 411.5L272 411.5L272.5 411.6L273 411.7L273.5 411.7L274 411.8L274.5 411.9L275 411.9L275.5 412L276 412L276.5 412.1L277 412.1L277.5 412.2L278 412.2L278.5 412.2L279 412.3L279.5 412.3L280 412.3L280.5 412.4L281 412.4L281.5 412.4L282 412.5L282.5 412.5L283 412.5L283.5 412.5L284 412.5L284.5 412.6L285 412.6L285.5 412.6L286 412.6L286.5 412.6L287 412.6L287.5 412.6L288 412.6L288.5 412.7L289 412.7L289.5 412.7L290 412.7L290.5 412.7L291 412.7L291.5 412.7L292 412.7L292.5 412.7L293 412.7L293.5 412.7L294 412.7L294.5 412.7L295 412.7L295.5 412.7L296 412.7L296.5 412.7L297 412.7L297.5 412.7L298 412.7L298.5 412.7L299 412.7L299.5 412.7L300 412.7L300.5 412.7L301 412.7L301.5 412.8L302 412.8L302.5 412.8L303 412.8L303.5 412.8L304 412.8L304.5 412.8L305 412.8L305.5 412.8L306 412.8L306.5 412.8L307 412.9L307.5 412.9L308 412.9L308.5 412.9L309 413L309.5 413L310 413L310.5 413.1L311 413.1L311.5 413.2L312 413.2L312.5 413.3L313 413.4L313.5 413.4L314 413.5L314.5 413.6L315 413.7L315.5 413.8L316 413.9L316.5 414.1L317 414.2L317.5 414.3L318 414.5L318.5 414.6L319 414.8L319.5 415L320 415.2L320.5 415.3L321 415.5L321.5 415.7L322 415.9L322.5 416.1L323 416.3L323.5 416.6L324 416.8L324.5 417L325 417.2L325.5 417.4L326 417.7L326.5 417.9L327 418.1L327.5 418.3L328 418.5L328.5 418.8L329 419L329.5 419.2L330 419.4L330.5 419.6L331 419.7L331.5 419.9L332 420.1L332.5 420.3L333 420.4L333.5 420.6L334 420.7L334.5 420.9L335 421L335.5 421.1L336 421.2L336.5 421.3L337 421.4L337.5 421.5L338 421.6L338.5 421.7L339 421.8L339.5 421.8L340 421.9L340.5 421.9L341 422L341.5 422L342 422.1L342.5 422.1L343 422.2L343.5 422.2L344 422.2L344.5 422.2L345 422.3L345.5 422.3L346 422.3L346.5 422.3L347 422.3L347.5 422.3L348 422.3L348.5 422.4L349 422.4L349.5 422.4L350 422.4L350.5 422.4L351 422.4L351.5 422.4L352 422.4L352.5 422.4L353 422.4L353.5 422.4L354 422.4" stroke="#d48ad8"/>
<path d="M381.8 427.2L383.3 426.9L384.8 426.8L386.3 426.7L387.8 426.6L389.3 426.8L390.8 427.1L392.3 427.4L393.8 427.9L395.3 427.8L396.8 428.2L398.3 428L399.8 428.1L401.3 428.3L402.8 428.4L404.3 428.2L405.8 428.1L407.3 428.3L408.8 428.2L410.3 428.5L411.8 428.2L413.3 428.2L414.8 428.5L416.3 428.1L417.8 428.3L419.3 428.5L420.8 428.5L422.3 428.2L423.8 428.3L425.3 428.3L426.8 428.7L428.3 428.5L429.8 428.5L431.3 428.4L432.8 427.9L434.3 427.7L435 427L436 427.1L437 427.1L438 427.1L439 426.8L440 426.6L441 426.4L442 426L443 425.6L444 424.9L445 424.8L446 423.9L447 423.6L448 422.7L449 421.6L450 420.5L451 419.5L452 418.5L453 417.1L454 415.3L455 413.6L456 412L457 410L458 407.7L459 405.2L460 402.8L461 399.7L462 396.8L463 393.7L464 390.7L465 387.1L466 383.6L467 379.7L468 375.8L469 372L470 368.5L471 364.4L472 360.2L473 355.9L474 352L475 347.9L476 343.5L477 339.2L478 335.4L479 331.9L480 328.3L481 325.2L482 322.4L483 319.4L484 316.6L485 314L486 313L487 312.8L488 313.7L489 315.7L490 319.3L491 323L492 328L493 333.3L494 339.4L495 346.2L496 352.9L497 360.3L498 367.2L499 374L500 380.8L501 387.4L502 393.6L503 399.4L504 404.1L505 408.8L506 412.8L507 416.7L508 419.3L509 421.9L510 424.1L511 426L512 427.7L513 428.9L514 429.8L515 430.7L516 431.2L517 431.4L518 431.6L519 432.3L520 432.4L521 432.1L521 433L522.2 433L523.4 432.9L524.6 433.4L525.8 433.3L527 433.4L528.2 433.4L529.4 434L530.6 434.2L531.8 434.2L533 434.5L534.2 434.1L535.4 434.4L536.6 434.7" stroke="#626262"/>
<path d="M435 427.4L435.5 427.4L436 427.4L436.5 427.4L437 427.4L437.5 427.4L438 427.4L438.5 427.4L439 427.4L439.5 427.4L440 427.4L440.5 427.4L441 427.4L441.5 427.4L442 427.4L442.5 427.4L443 427.4L443.5 427.4L444 427.4L444.5 427.4L445 427.4L445.5 427.4L446 427.4L446.5 427.4L447 427.4L447.5 427.4L448 427.4L448.5 427.4L449 427.4L449.5 427.4L450 427.4L450.5 427.4L451 427.4L451.5 427.4L452 427.4L452.5 427.4L453 427.4L453.5 427.4L454 427.4L454.5 427.3L455 427.3L455.5 427.3L456 427.3L456.5 427.3L457 427.2L457.5 427.2L458 427.1L458.5 427L459 427L459.5 426.9L460 426.8L460.5 426.6L461 426.5L461.5 426.3L462 426.1L462.5 425.8L463 425.5L463.5 425.2L464 424.8L464.5 424.4L465 423.9L465.5 423.4L466 422.8L466.5 422.1L467 421.3L467.5 420.4L468 419.5L468.5 418.4L469 417.2L469.5 415.9L470 414.5L470.5 413L471 411.3L471.5 409.5L472 407.6L472.5 405.5L473 403.3L473.5 401L474 398.5L474.5 395.9L475 393.1L475.5 390.3L476 387.3L476.5 384.2L477 381L477.5 377.7L478 374.4L478.5 371L479 367.6L479.5 364.2L480 360.7L480.5 357.4L481 354L481.5 350.8L482 347.6L482.5 344.6L483 341.7L483.5 339L484 336.5L484.5 334.3L485 332.2L485.5 330.4L486 328.9L486.5 327.7L487 326.7L487.5 326.1L488 325.8L488.5 325.7L489 326L489.5 326.6L490 327.4L490.5 328.6L491 329.9L491.5 331.6L492 333.4L492.5 335.5L493 337.9L493.5 340.4L494 343L494.5 345.9L495 348.8L495.5 351.9L496 355.1L496.5 358.4L497 361.7L497.5 365L498 368.4L498.5 371.8L499 375.1L499.5 378.4L500 381.7L500.5 384.9L501 388L501.5 391L502 393.9L502.5 396.7L503 399.4L503.5 402L504 404.5L504.5 406.8L505 409L505.5 411.1L506 413L506.5 414.8L507 416.5L507.5 418.1L508 419.6L508.5 420.9L509 422.1L509.5 423.3L510 424.3L510.5 425.2L511 426.1L511.5 426.9L512 427.6L512.5 428.2L513 428.7L513.5 429.2L514 429.7L514.5 430.1L515 430.4L515.5 430.7L516 431L516.5 431.2L517 431.5L517.5 431.6L518 431.8L518.5 431.9L519 432L519.5 432.1L520 432.2L520.5 432.3L521 432.4" stroke="#e07a86"/>
<path d="M435 427.4L435.5 427.4L436 427.4L436.5 427.4L437 427.4L437.5 427.3L438 427.3L438.5 427.3L439 427.3L439.5 427.3L440 427.3L440.5 427.2L441 427.2L441.5 427.2L442 427.1L442.5 427.1L443 427L443.5 426.9L444 426.9L444.5 426.8L445 426.7L445.5 426.6L446 426.4L446.5 426.3L447 426.1L447.5 425.9L448 425.7L448.5 425.4L449 425.2L449.5 424.8L450 424.5L450.5 424.1L451 423.7L451.5 423.3L452 422.8L452.5 422.2L453 421.6L453.5 421L454 420.3L454.5 419.5L455 418.7L455.5 417.8L456 416.9L456.5 415.9L457 414.9L457.5 413.8L458 412.7L458.5 411.5L459 410.2L459.5 408.9L460 407.6L460.5 406.2L461 404.8L461.5 403.4L462 401.9L462.5 400.4L463 399L463.5 397.5L464 396L464.5 394.6L465 393.2L465.5 391.8L466 390.5L466.5 389.2L467 388L467.5 386.9L468 385.9L468.5 385L469 384.1L469.5 383.4L470 382.8L470.5 382.3L471 381.9L471.5 381.6L472 381.5L472.5 381.5L473 381.7L473.5 381.9L474 382.3L474.5 382.9L475 383.5L475.5 384.3L476 385.2L476.5 386.2L477 387.2L477.5 388.4L478 389.7L478.5 391L479 392.4L479.5 393.8L480 395.3L480.5 396.8L481 398.4L481.5 399.9L482 401.5L482.5 403.1L483 404.7L483.5 406.2L484 407.7L484.5 409.2L485 410.7L485.5 412.1L486 413.5L486.5 414.8L487 416.1L487.5 417.3L488 418.5L488.5 419.6L489 420.7L489.5 421.6L490 422.6L490.5 423.5L491 424.3L491.5 425L492 425.7L492.5 426.4L493 427L493.5 427.6L494 428.1L494.5 428.6L495 429L495.5 429.4L496 429.7L496.5 430.1L497 430.3L497.5 430.6L498 430.8L498.5 431.1L499 431.3L499.5 431.4L500 431.6L500.5 431.7L501 431.8L501.5 431.9L502 432L502.5 432.1L503 432.2L503.5 432.3L504 432.3L504.5 432.4L505 432.4L505.5 432.4L506 432.5L506.5 432.5L507 432.5L507.5 432.6L508 432.6L508.5 432.6L509 432.6L509.5 432.6L510 432.6L510.5 432.6L511 432.7L511.5 432.7L512 432.7L512.5 432.7L513 432.7L513.5 432.7L514 432.7L514.5 432.7L515 432.7L515.5 432.7L516 432.7L516.5 432.7L517 432.7L517.5 432.7L518 432.7L518.5 432.7L519 432.7L519.5 432.7L520 432.7L520.5 432.7L521 432.7" stroke="#3a8cc9"/>
<path d="M435 427.2L435.5 427.2L436 427.2L436.5 427.1L437 427.1L437.5 427L438 427L438.5 426.9L439 426.8L439.5 426.8L440 426.7L440.5 426.6L441 426.5L441.5 426.4L442 426.3L442.5 426.1L443 426L443.5 425.9L444 425.7L444.5 425.6L445 425.4L445.5 425.2L446 425.1L446.5 424.9L447 424.7L447.5 424.5L448 424.3L448.5 424.2L449 424L449.5 423.8L450 423.7L450.5 423.5L451 423.4L451.5 423.2L452 423.1L452.5 423L453 422.9L453.5 422.8L454 422.8L454.5 422.7L455 422.7L455.5 422.7L456 422.7L456.5 422.8L457 422.8L457.5 422.9L458 423L458.5 423.1L459 423.2L459.5 423.3L460 423.5L460.5 423.7L461 423.8L461.5 424L462 424.2L462.5 424.4L463 424.6L463.5 424.8L464 425L464.5 425.2L465 425.4L465.5 425.6L466 425.8L466.5 426L467 426.2L467.5 426.4L468 426.6L468.5 426.7L469 426.9L469.5 427.1L470 427.2L470.5 427.4L471 427.5L471.5 427.6L472 427.7L472.5 427.9L473 428L473.5 428.1L474 428.2L474.5 428.3L475 428.4L475.5 428.5L476 428.6L476.5 428.7L477 428.8L477.5 428.8L478 428.9L478.5 429L479 429.1L479.5 429.2L480 429.3L480.5 429.4L481 429.4L481.5 429.5L482 429.6L482.5 429.7L483 429.8L483.5 429.9L484 430L484.5 430L485 430.1L485.5 430.2L486 430.3L486.5 430.4L487 430.5L487.5 430.6L488 430.7L488.5 430.7L489 430.8L489.5 430.9L490 431L490.5 431.1L491 431.2L491.5 431.2L492 431.3L492.5 431.4L493 431.5L493.5 431.5L494 431.6L494.5 431.7L495 431.7L495.5 431.8L496 431.9L496.5 431.9L497 432L497.5 432L498 432.1L498.5 432.1L499 432.2L499.5 432.2L500 432.3L500.5 432.3L501 432.3L501.5 432.4L502 432.4L502.5 432.4L503 432.5L503.5 432.5L504 432.5L504.5 432.5L505 432.5L505.5 432.6L506 432.6L506.5 432.6L507 432.6L507.5 432.6L508 432.6L508.5 432.6L509 432.6L509.5 432.6L510 432.7L510.5 432.7L511 432.7L511.5 432.7L512 432.7L512.5 432.7L513 432.7L513.5 432.7L514 432.7L514.5 432.7L515 432.7L515.5 432.7L516 432.7L516.5 432.7L517 432.7L517.5 432.7L518 432.7L518.5 432.7L519 432.7L519.5 432.7L520 432.7L520.5 432.7L521 432.7" stroke="#45b391"/>
</g>
<g font-size="10" fill="#2a2a2a" class="b3" color="#2a2a2a">
<text x="26.4" y="306.6">O 1s</text>
<text x="201.1" y="308">Ti 2p</text>
<text x="383.4" y="307.9">C 1s</text>
</g>
<g font-size="10.4" fill="#222" class="b3" color="#222"><text x="23.1" y="464.1" text-anchor="middle">540</text><text x="67.3" y="464.1" text-anchor="middle">536</text><text x="111.5" y="464.1" text-anchor="middle">532</text><text x="155.7" y="464.1" text-anchor="middle">528</text><text x="225.7" y="464.1" text-anchor="middle">468</text><text x="268.7" y="464.1" text-anchor="middle">464</text><text x="311.7" y="464.1" text-anchor="middle">460</text><text x="354.7" y="464.1" text-anchor="middle">456</text><text x="381.5" y="464.1" text-anchor="middle">296</text><text x="420.4" y="464.1" text-anchor="middle">292</text><text x="459.3" y="464.1" text-anchor="middle">288</text><text x="498.1" y="464.1" text-anchor="middle">284</text><text x="537" y="464.1" text-anchor="middle">280</text></g>
<text transform="translate(10.8,409.6) rotate(-90)" font-size="11.9" letter-spacing="0.28" fill="#222" class="b3" color="#222">Intensity, a.u.</text>
<text x="224.3" y="480.9" font-size="12.1" fill="#222" class="b3" color="#222">Binding energy, eV</text>
<text x="268.2" y="516.6" class="serif" font-size="15.6" letter-spacing="-0.3" fill="#111">(<tspan font-weight="bold">b</tspan>)</text>
</svg>
</body></html>
